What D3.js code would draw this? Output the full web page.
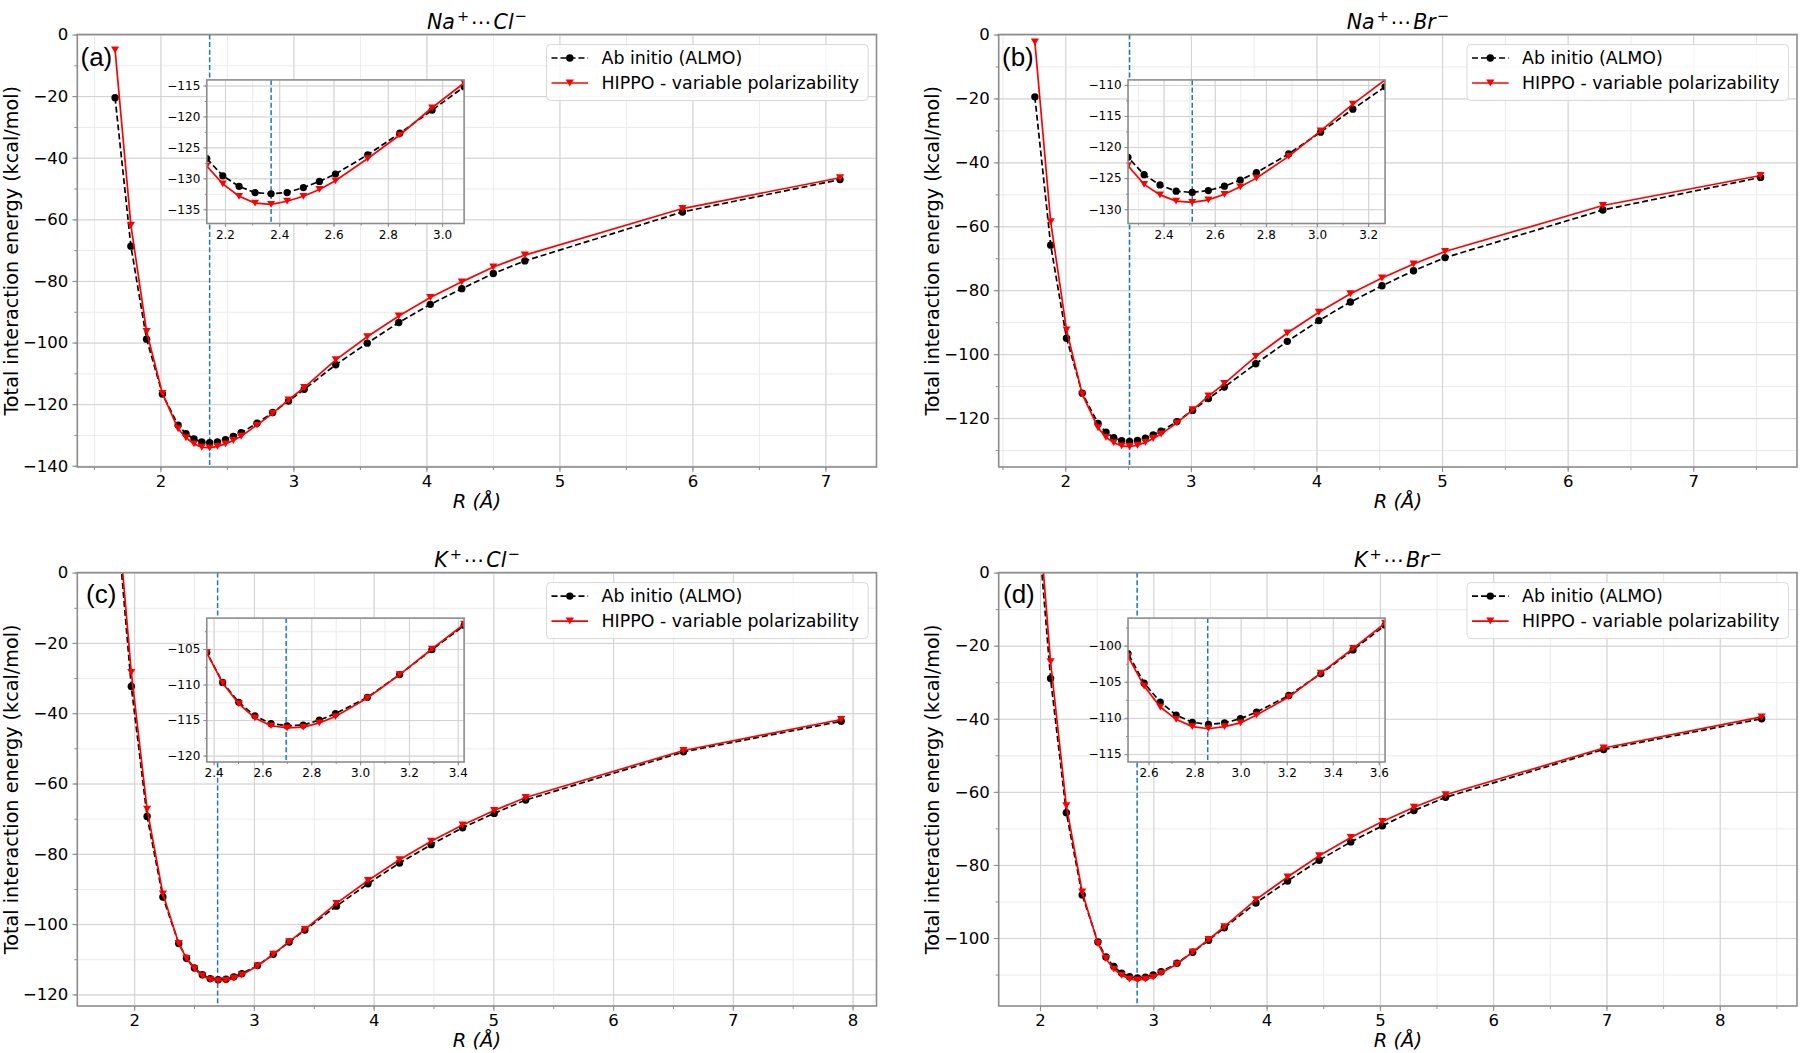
<!DOCTYPE html>
<html><head><meta charset="utf-8">
<script src="https://cdn.jsdelivr.net/npm/d3@7"></script>
<style>body{margin:0;background:#fff}svg{display:block}</style>
</head><body><svg id="chart" width="1800" height="1053"></svg>
<script>
// ---------------- DATA ----------------
const R_A = [1.659,1.778,1.896,2.015,2.133,2.192,2.252,2.311,2.37,2.429,2.489,2.548,2.607,2.726,2.844,2.963,3.081,3.318,3.555,3.792,4.029,4.266,4.503,4.74,5.925,7.11];
const ALMO_A = [-20.5,-68.7,-98.9,-116.7,-126.8,-129.6,-131.3,-132.3,-132.5,-132.3,-131.5,-130.5,-129.3,-126.2,-122.7,-119.0,-115.2,-107.2,-100.2,-93.5,-87.6,-82.5,-77.6,-73.5,-57.6,-47.1];
const HIPPO_A = [-5.0,-61.9,-96.4,-116.5,-128.0,-130.9,-132.9,-134.0,-134.2,-133.7,-132.9,-131.8,-130.4,-126.8,-123.0,-118.6,-114.6,-105.6,-98.1,-91.4,-85.4,-80.3,-75.5,-71.6,-56.5,-46.5];

const R_B = [1.758,1.884,2.01,2.135,2.261,2.324,2.386,2.449,2.512,2.575,2.638,2.7,2.763,2.889,3.014,3.14,3.266,3.517,3.768,4.019,4.27,4.522,4.773,5.024,6.28,7.536];
const ALMO_B = [-19.5,-65.9,-95.0,-112.2,-121.65,-124.45,-126.1,-127.1,-127.3,-127.0,-126.3,-125.3,-124.1,-121.1,-117.6,-113.9,-110.3,-103.0,-96.0,-89.5,-83.7,-78.6,-73.9,-69.8,-54.9,-44.7];
const HIPPO_B = [-2.3,-58.6,-92.4,-112.5,-123.0,-126.0,-127.7,-128.7,-128.9,-128.5,-127.6,-126.4,-125.0,-121.5,-117.4,-113.1,-109.2,-100.7,-93.4,-86.9,-81.1,-76.2,-71.8,-67.9,-53.5,-44.1];

const R_C = [1.845,1.976,2.108,2.24,2.372,2.437,2.503,2.569,2.635,2.701,2.767,2.833,2.899,3.03,3.162,3.294,3.426,3.689,3.953,4.216,4.48,4.743,5.007,5.27,6.588,7.905];
const ALMO_C = [20,-32.4,-69.4,-92.3,-105.5,-109.7,-112.5,-114.4,-115.5,-115.8,-115.7,-115.0,-114.1,-111.8,-108.6,-105.1,-101.7,-94.9,-88.5,-82.6,-77.4,-72.6,-68.5,-64.7,-51.0,-42.3];
const HIPPO_C = [23.7,-28.4,-67.3,-91.4,-105.5,-109.8,-112.7,-114.7,-115.8,-116.1,-116.0,-115.4,-114.5,-111.9,-108.6,-105.0,-101.5,-94.1,-87.6,-81.7,-76.4,-71.8,-67.7,-64.0,-50.6,-41.8];

const R_D = [1.953,2.093,2.232,2.372,2.511,2.581,2.651,2.72,2.79,2.86,2.93,2.999,3.069,3.209,3.348,3.488,3.627,3.906,4.185,4.464,4.743,5.022,5.301,5.58,6.975,8.37];
const ALMO_D = [24,-29.0,-65.7,-88.2,-101.1,-105.2,-107.8,-109.6,-110.6,-110.9,-110.7,-110.1,-109.2,-106.9,-103.9,-100.6,-97.2,-90.4,-84.4,-78.7,-73.7,-69.3,-65.1,-61.5,-48.4,-40.0];
const HIPPO_D = [30,-24.4,-63.8,-87.4,-101.5,-105.6,-108.5,-110.2,-111.2,-111.5,-111.2,-110.7,-109.6,-107.1,-103.8,-100.4,-96.9,-89.5,-83.3,-77.5,-72.5,-68.1,-64.2,-60.8,-48.0,-39.5];

// equilibrium distance (vertical dashed line)
const R_EQ = [2.37, 2.512, 2.697, 2.857];

// axis ranges
const XDOM_MAIN = [[1.375,7.384],[1.47,7.826],[1.525,8.2],[1.635,8.682]];
const YDOM_MAIN = [[-140.4,0],[-135.3,0],[-123.3,0],[-118.6,0]];
const YDOM_INSET = [[-137.3,-114.1],[-132.3,-109.2],[-120.9,-100.65],[-116.1,-96.2]];

// tick labels
const XTICKS_MAIN = [[2,3,4,5,6,7],[2,3,4,5,6,7],[2,3,4,5,6,7,8],[2,3,4,5,6,7,8]];
const YTICKS_MAIN = [[0,-20,-40,-60,-80,-100,-120,-140],[0,-20,-40,-60,-80,-100,-120],[0,-20,-40,-60,-80,-100,-120],[0,-20,-40,-60,-80,-100]];
const XTICKS_INSET = [[2.2,2.4,2.6,2.8,3.0],[2.4,2.6,2.8,3.0,3.2],[2.4,2.6,2.8,3.0,3.2,3.4],[2.6,2.8,3.0,3.2,3.4,3.6]];
const YTICKS_INSET = [[-115,-120,-125,-130,-135],[-110,-115,-120,-125,-130],[-105,-110,-115,-120],[-100,-105,-110,-115]];

const PANEL_LABELS = ['(a)','(b)','(c)','(d)'];
const TITLES = [['Na','+','Cl','\u2212'],['Na','+','Br','\u2212'],['K','+','Cl','\u2212'],['K','+','Br','\u2212']];
const SERIES_NAMES = ['Ab initio (ALMO)','HIPPO - variable polarizability'];
const X_LABEL = 'R (\u00C5)';
const Y_LABEL = 'Total interaction energy (kcal/mol)';

// ---------------- DRAWING ----------------
const svg = d3.select('#chart');
const FONT = 'DejaVu Sans';
const RS = [R_A,R_B,R_C,R_D], AL = [ALMO_A,ALMO_B,ALMO_C,ALMO_D], HI = [HIPPO_A,HIPPO_B,HIPPO_C,HIPPO_D];
const boxes = [
  {l:77.3,r:876.5,t:34.5,b:467},
  {l:998.7,r:1797,t:34.5,b:467},
  {l:77.3,r:876.5,t:572.6,b:1006},
  {l:998.7,r:1797,t:572.6,b:1006}
];
const defs = svg.append('defs');
let clipId = 0;

function multiples(dom, step) {
  const out = [];
  const s = Math.ceil(dom[0]/step - 1e-9), e = Math.floor(dom[1]/step + 1e-9);
  for (let k = s; k <= e; k++) out.push(+(k*step).toFixed(6));
  return out;
}
function triDown(s) { return `M${-s},${-s*0.85}L${s},${-s*0.85}L0,${s*0.85}Z`; }

function drawAxes(o) {
  const {box, xDom, yDom, xTicks, yTicks, xMinStep, yMinStep, fs, xFmt, yFmt, R, A, H, req, ms, lab} = o;
  const g = svg.append('g');
  const x = d3.scaleLinear().domain(xDom).range([box.l, box.r]);
  const y = d3.scaleLinear().domain(yDom).range([box.b, box.t]);
  const w = box.r - box.l, h = box.b - box.t;
  const id = 'clip' + (clipId++);
  defs.append('clipPath').attr('id', id).append('rect')
    .attr('x', box.l).attr('y', box.t).attr('width', w).attr('height', h);
  g.append('rect').attr('x', box.l).attr('y', box.t).attr('width', w).attr('height', h).attr('fill', '#fff');

  // grids
  const gridSpecs = [
    {xv: multiples(xDom, xMinStep), yv: multiples(yDom, yMinStep), c: '#ebebeb', sw: 1},
    {xv: xTicks, yv: yTicks, c: '#d2d2d2', sw: 1}
  ];
  gridSpecs.forEach(gs => {
    const gx = g.append('g').attr('transform', `translate(0,${box.b})`)
      .call(d3.axisBottom(x).tickValues(gs.xv).tickSize(-h).tickFormat(''));
    gx.select('.domain').remove();
    gx.selectAll('line').attr('stroke', gs.c).attr('stroke-width', gs.sw);
    const gy = g.append('g').attr('transform', `translate(${box.l},0)`)
      .call(d3.axisLeft(y).tickValues(gs.yv).tickSize(-w).tickFormat(''));
    gy.select('.domain').remove();
    gy.selectAll('line').attr('stroke', gs.c).attr('stroke-width', gs.sw);
  });

  const pg = g.append('g').attr('clip-path', `url(#${id})`);
  // equilibrium dashed line
  pg.append('line').attr('x1', x(req)).attr('x2', x(req)).attr('y1', box.t).attr('y2', box.b)
    .attr('stroke', '#1f77b4').attr('stroke-width', 1.5).attr('stroke-dasharray', '5,2.6');

  const pts = R.map((r, i) => ({r, a: A[i], h: H[i]}));
  const lineA = d3.line().x(d => x(d.r)).y(d => y(d.a));
  const lineH = d3.line().x(d => x(d.r)).y(d => y(d.h));
  pg.append('path').attr('d', lineA(pts)).attr('fill', 'none').attr('stroke', '#000')
    .attr('stroke-width', 1.7).attr('stroke-dasharray', '6,3');
  pg.selectAll('circle.a').data(pts).enter().append('circle')
    .attr('cx', d => x(d.r)).attr('cy', d => y(d.a)).attr('r', ms).attr('fill', '#000');
  pg.append('path').attr('d', lineH(pts)).attr('fill', 'none').attr('stroke', '#ff0000').attr('stroke-width', 1.7);
  pg.selectAll('path.h').data(pts).enter().append('path')
    .attr('d', triDown(ms*1.1)).attr('transform', d => `translate(${x(d.r)},${y(d.h)})`).attr('fill', '#ff0000');

  // spines
  g.append('rect').attr('x', box.l).attr('y', box.t).attr('width', w).attr('height', h)
    .attr('fill', 'none').attr('stroke', '#8c8c8c').attr('stroke-width', 1.6);

  // ticks + labels
  const tk = (sel) => {
    sel.select('.domain').remove();
    sel.selectAll('line').attr('stroke', '#8c8c8c').attr('stroke-width', 1);
    sel.selectAll('text').attr('font-family', FONT).attr('font-size', fs).attr('fill', '#000');
  };
  g.append('g').attr('transform', `translate(0,${box.b})`)
    .call(d3.axisBottom(x).tickValues(multiples(xDom, xMinStep)).tickSize(lab.minor).tickFormat('')).call(tk);
  g.append('g').attr('transform', `translate(${box.l},0)`)
    .call(d3.axisLeft(y).tickValues(multiples(yDom, yMinStep)).tickSize(lab.minor).tickFormat('')).call(tk);
  g.append('g').attr('transform', `translate(0,${box.b})`)
    .call(d3.axisBottom(x).tickValues(xTicks).tickSize(lab.major).tickPadding(lab.padX).tickFormat(xFmt)).call(tk);
  g.append('g').attr('transform', `translate(${box.l},0)`)
    .call(d3.axisLeft(y).tickValues(yTicks).tickSize(lab.major).tickPadding(lab.padY).tickFormat(yFmt)).call(tk);
  return {x, y, g};
}

const fmtInt = d3.format('d');
const fmt1 = d3.format('.1f');

for (let p = 0; p < 4; p++) {
  const box = boxes[p];
  const W = box.r - box.l, Hh = box.b - box.t;
  drawAxes({box, xDom: XDOM_MAIN[p], yDom: YDOM_MAIN[p], xTicks: XTICKS_MAIN[p], yTicks: YTICKS_MAIN[p],
    xMinStep: 0.5, yMinStep: 10, fs: 16.5, xFmt: fmtInt, yFmt: fmtInt,
    R: RS[p], A: AL[p], H: HI[p], req: R_EQ[p], ms: 3.7, lab: {major: 5, minor: 3, padX: 3, padY: 4}});

  // title
  const tt = TITLES[p];
  const title = svg.append('text').attr('x', (box.l + box.r)/2).attr('y', box.t - 5.5)
    .attr('text-anchor', 'middle').attr('font-family', FONT).attr('font-size', 20.5).attr('fill', '#000');
  title.append('tspan').attr('font-style', 'italic').text(tt[0]);
  title.append('tspan').attr('font-size', 14.5).attr('dy', -8.5).attr('dx', 2).text(tt[1]);
  title.append('tspan').attr('dy', 8.5).attr('dx', 2).text('\u22EF');
  title.append('tspan').attr('font-style', 'italic').attr('dx', 2).text(tt[2]);
  title.append('tspan').attr('font-size', 14.5).attr('dy', -8.5).attr('dx', 1).text(tt[3]);

  // axis labels
  svg.append('text').attr('x', (box.l + box.r)/2).attr('y', box.b + 41)
    .attr('text-anchor', 'middle').attr('font-family', FONT).attr('font-size', 19.5)
    .attr('font-style', 'italic').attr('fill', '#000').text(X_LABEL);
  svg.append('text').attr('transform', `translate(${box.l - 59.5},${(box.t + box.b)/2}) rotate(-90)`)
    .attr('text-anchor', 'middle').attr('font-family', FONT).attr('font-size', 19.2)
    .attr('fill', '#000').text(Y_LABEL);

  // panel label
  const lx = [80.5, 1002, 86, 1003][p];
  svg.append('text').attr('x', lx).attr('y', box.t + (p < 2 ? 31.7 : 30.7))
    .attr('font-family', 'Liberation Sans').attr('font-size', 26).attr('fill', '#000').text(PANEL_LABELS[p]);

  // legend
  const lg = svg.append('g');
  const L = box.r - 330, T = box.t + 10;
  lg.append('rect').attr('x', L).attr('y', T).attr('width', 321.6).attr('height', 56).attr('rx', 4)
    .attr('fill', '#fff').attr('fill-opacity', 0.8).attr('stroke', '#d9d9d9').attr('stroke-width', 1);
  const ry = [T + 13.5, T + 38.5];
  lg.append('line').attr('x1', L + 5).attr('x2', L + 41.6).attr('y1', ry[0]).attr('y2', ry[0])
    .attr('stroke', '#000').attr('stroke-width', 1.7).attr('stroke-dasharray', '6,3');
  lg.append('circle').attr('cx', L + 23.3).attr('cy', ry[0]).attr('r', 3.7).attr('fill', '#000');
  lg.append('line').attr('x1', L + 5).attr('x2', L + 41.6).attr('y1', ry[1]).attr('y2', ry[1])
    .attr('stroke', '#ff0000').attr('stroke-width', 1.7);
  lg.append('path').attr('d', triDown(4.1)).attr('transform', `translate(${L + 23.3},${ry[1]})`).attr('fill', '#ff0000');
  SERIES_NAMES.forEach((s, i) => {
    lg.append('text').attr('x', L + 55).attr('y', ry[i] + 6.3).attr('font-family', FONT).attr('font-size', 17.4)
      .attr('fill', '#000').text(s);
  });

  // inset
  const ib = {l: box.l + 0.162*W, r: box.l + 0.484*W, t: box.t + 0.105*Hh, b: box.t + 0.437*Hh};
  const R = RS[p];
  drawAxes({box: ib, xDom: [R[4], R[16]], yDom: YDOM_INSET[p], xTicks: XTICKS_INSET[p], yTicks: YTICKS_INSET[p],
    xMinStep: 0.1, yMinStep: 2.5, fs: 12, xFmt: fmt1, yFmt: fmtInt,
    R: RS[p], A: AL[p], H: HI[p], req: R_EQ[p], ms: 3.6, lab: {major: 3.5, minor: 2, padX: 3, padY: 3}});
}
</script></body></html>
